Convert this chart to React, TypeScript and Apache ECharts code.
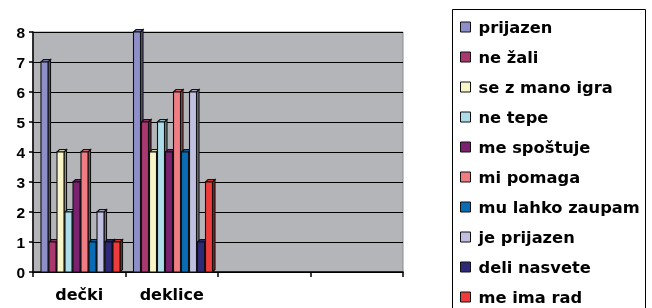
import React, { useEffect, useRef } from "react";
import * as echarts from "echarts";

const categories = ["dečki", "deklice", "", ""];
const seriesNames = [
  "prijazen",
  "ne žali",
  "se z mano igra",
  "ne tepe",
  "me spoštuje",
  "mi pomaga",
  "mu lahko zaupam",
  "je prijazen",
  "deli nasvete",
  "me ima rad",
];
const deckiValues = [7, 1, 4, 2, 3, 4, 1, 2, 1, 1];
const deklicaValues = [8, 5, 4, 5, 4, 6, 4, 6, 1, 3];
const yTicks = [0, 1, 2, 3, 4, 5, 6, 7, 8];

const colors = [
  "#8E8FC9",
  "#A8386E",
  "#F8F5C8",
  "#ADDDE8",
  "#7A2270",
  "#F07C84",
  "#0A6CB4",
  "#C0C0E0",
  "#2E2A78",
  "#EE3B3B",
];

function shade(hex: string, f: number) {
  const n = parseInt(hex.slice(1), 16);
  const r = Math.round(((n >> 16) & 255) * f);
  const g = Math.round(((n >> 8) & 255) * f);
  const b = Math.round((n & 255) * f);
  return `rgb(${r},${g},${b})`;
}

export default function App() {
  const ref = useRef<HTMLDivElement>(null);
  useEffect(() => {
    if (!ref.current) return;
    const chart = echarts.init(ref.current, undefined, { renderer: "svg" });
    const series = seriesNames.map((name, s) => ({
      type: "custom",
      name,
      itemStyle: { color: colors[s] },
      encode: { x: 0, y: 1 },
      data: [
        [0, deckiValues[s]],
        [1, deklicaValues[s]],
      ],
      renderItem: (params: any, api: any) => {
        const ci = api.value(0);
        const v = api.value(1);
        const base = api.coord([ci, 0]);
        const top = api.coord([ci, v]);
        const catW = api.size([1, 0])[0];
        const catStart = base[0] - catW / 2;
        const step = catW * 0.0865;
        const fw = step - 1;
        const d = 2.5;
        const x0 = catStart + 8 + s * step;
        const yT = top[1];
        const yB = base[1];
        const c = colors[s];
        const stroke = { stroke: "#111", lineWidth: 1.1 };
        return {
          type: "group",
          children: [
            {
              type: "polygon",
              shape: {
                points: [
                  [x0 + fw, yT],
                  [x0 + fw + d, yT - d],
                  [x0 + fw + d, yB - d],
                  [x0 + fw, yB],
                ],
              },
              style: { fill: shade(c, 0.6), ...stroke },
            },
            {
              type: "polygon",
              shape: {
                points: [
                  [x0, yT],
                  [x0 + d, yT - d],
                  [x0 + fw + d, yT - d],
                  [x0 + fw, yT],
                ],
              },
              style: { fill: shade(c, 0.85), ...stroke },
            },
            {
              type: "rect",
              shape: { x: x0, y: yT, width: fw, height: yB - yT },
              style: { fill: c, ...stroke },
            },
          ],
        };
      },
    }));

    chart.setOption({
      animation: false,
      grid: {
        left: 33,
        top: 32,
        width: 370,
        height: 240,
        show: true,
        backgroundColor: "#B4B5B8",
        borderColor: "#8A8A8C",
        borderWidth: 1,
      },
      legend: {
        orient: "vertical",
        left: 460,
        top: 19,
        height: 340,
        padding: 0,
        icon: "rect",
        itemWidth: 10,
        itemHeight: 10,
        itemGap: 14,
        itemStyle: { borderColor: "#111", borderWidth: 1 },
        textStyle: {
          fontFamily: "DejaVu Sans",
          fontWeight: "bold",
          fontSize: 16.3,
          color: "#000",
          padding: [0, 0, 0, 3],
        },
        data: seriesNames,
      },
      graphic: [
        {
          type: "rect",
          z: -1,
          shape: { x: 452.5, y: 9.5, width: 193, height: 320 },
          style: { fill: "#fff", stroke: "#000", lineWidth: 1 },
        },
      ],
      xAxis: {
        type: "category",
        data: categories,
        axisLine: { show: true, lineStyle: { color: "#000", width: 1.5 } },
        axisTick: { show: true, length: 5, lineStyle: { color: "#000", width: 1.5 } },
        axisLabel: {
          fontFamily: "DejaVu Sans",
          fontWeight: "bold",
          fontSize: 16,
          color: "#000",
          margin: 14,
        },
        splitLine: { show: false },
      },
      yAxis: {
        type: "value",
        min: yTicks[0],
        max: yTicks[yTicks.length - 1],
        interval: 1,
        axisLine: { show: true, lineStyle: { color: "#000", width: 1.5 } },
        axisTick: { show: true, length: 4, lineStyle: { color: "#000", width: 1.5 } },
        axisLabel: {
          fontFamily: "Liberation Sans",
          fontWeight: "bold",
          fontSize: 15.5,
          color: "#000",
          margin: 8,
        },
        splitLine: { show: true, lineStyle: { color: "#000", width: 1 } },
      },
      series,
    });
    return () => chart.dispose();
  }, []);
  return (
    <div
      ref={ref}
      style={{ position: "fixed", left: 0, top: 0, width: 652, height: 308 }}
    />
  );
}
